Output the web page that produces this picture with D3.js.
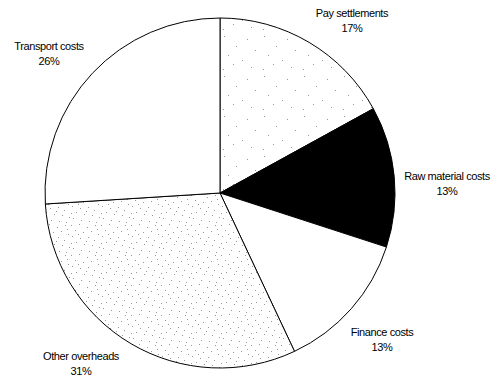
<!DOCTYPE html>
<html>
<head>
<meta charset="utf-8">
<script src="https://cdn.jsdelivr.net/npm/d3@7"></script>
<style>
  html, body { margin: 0; padding: 0; background: #fff; }
  svg { display: block; }
  text { font-family: "Liberation Sans", Arial, sans-serif; font-size: 11px; letter-spacing: -0.4px; fill: #000; }
</style>
</head>
<body>
<svg id="chart" width="503" height="378"></svg>
<script>
// Cost breakdown, clockwise from 12 o'clock
const categories = ["Pay settlements", "Raw material costs", "Finance costs", "Other overheads", "Transport costs"];
const shares = [17, 13, 13, 31, 26];
const shareLabels = ["17%", "13%", "13%", "31%", "26%"];
const fills = ["url(#dotsLight)", "#000", "#fff", "url(#dotsDense)", "#fff"];
// label anchor (baseline of first line) for each slice
const labelPos = [[352, 17], [447, 180], [382, 336], [81, 360], [49, 50]];

const svg = d3.select("#chart");
const cx = 220, cy = 193, r = 175;

// stipple patterns: a tile of scattered single-pixel dots
const defs = svg.append("defs");
function stipple(id, size, dots, color) {
  const p = defs.append("pattern").attr("id", id)
    .attr("patternUnits", "userSpaceOnUse").attr("width", size).attr("height", size);
  p.append("rect").attr("width", size).attr("height", size).attr("fill", "#fff");
  p.selectAll("rect.d").data(dots).join("rect").attr("class", "d")
    .attr("x", d => d[0]).attr("y", d => d[1]).attr("width", 1).attr("height", 1)
    .attr("fill", color);
}
stipple("dotsLight", 40,
  [[4,3],[27,6],[16,13],[35,17],[8,22],[22,27],[31,34],[3,36],[13,31]], "#999");
stipple("dotsDense", 30,
  [[1,2],[9,1],[17,4],[25,2],[5,7],[13,9],[21,8],[28,11],[2,13],[10,15],
   [18,14],[24,17],[6,19],[14,21],[22,22],[29,24],[3,25],[11,27],[19,28],[26,29],
   [8,11],[16,18],[27,6],[1,20]], "#999");

const pie = d3.pie().sort(null).value(d => d)(shares);
const arc = d3.arc().innerRadius(0).outerRadius(r);

const g = svg.append("g").attr("transform", `translate(${cx},${cy})`);
g.selectAll("path").data(pie).join("path")
  .attr("d", arc)
  .attr("fill", (d, i) => fills[i])
  .attr("stroke", "#000")
  .attr("stroke-width", 1)
  .attr("stroke-linejoin", "round");

const labels = svg.append("g").selectAll("text").data(categories).join("text")
  .attr("text-anchor", "middle")
  .attr("x", (d, i) => labelPos[i][0])
  .attr("y", (d, i) => labelPos[i][1]);
labels.append("tspan").attr("x", (d, i) => labelPos[i][0]).text(d => d);
labels.append("tspan").attr("x", (d, i) => labelPos[i][0]).attr("dy", 15)
  .text((d, i) => shareLabels[i]);
</script>
</body>
</html>
